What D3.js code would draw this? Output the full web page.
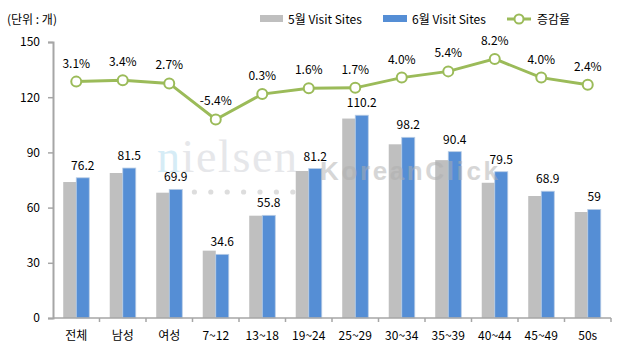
<!DOCTYPE html>
<html><head><meta charset="utf-8">
<script src="https://cdn.jsdelivr.net/npm/d3@7"></script>
<style>body{margin:0;background:#fff}svg{display:block}text{font-family:"Noto Sans CJK KR","DejaVu Sans",sans-serif;}</style>
</head><body><svg id="c" width="617" height="358"></svg>
<script>
const categories = ["전체","남성","여성","7~12","13~18","19~24","25~29","30~34","35~39","40~44","45~49","50s"];
const may = [73.9,78.8,68.1,36.6,55.6,79.9,108.4,94.4,85.8,73.5,66.3,57.6];
const june = [76.2,81.5,69.9,34.6,55.8,81.2,110.2,98.2,90.4,79.5,68.9,59];
const growth = [3.1,3.4,2.7,-5.4,0.3,1.6,1.7,4.0,5.4,8.2,4.0,2.4];
const june_labels = ["76.2","81.5","69.9","34.6","55.8","81.2","110.2","98.2","90.4","79.5","68.9","59"];
const yTicks = [0,30,60,90,120,150];
const seriesNames = ["5월 Visit Sites","6월 Visit Sites","증감율"];
const colors = {may:"#BFBFBF", june:"#558ED5", line:"#9BBB59"};

const svg = d3.select("#c");
const L=53, R=611, T=42, B=318;

// watermark background part (dots + nielsen)
const wm = svg.append("g");
wm.append("text").attr("x",157).attr("y",172).style("font-family","'Liberation Serif', serif").attr("font-size",46)
  .attr("textLength",140).attr("fill","#E6E7EA")
  .html('<tspan fill="#D6ECF6">n</tspan>ielsen');
for(let i=0;i<8;i++) wm.append("circle").attr("cx",178+i*16.4).attr("cy",192).attr("r",2.6).attr("fill","#DDDDDD");

const x = d3.scaleBand().domain(categories).range([L,R]).paddingInner(0.44).paddingOuter(0.22);
const x1 = d3.scaleBand().domain(["may","june"]).range([0,x.bandwidth()]);
const y = d3.scaleLinear().domain([0,150]).range([B,T]);
const y2 = d3.scaleLinear().domain([-50,12]).range([B,T]);

// y axis
const yAxis = svg.append("g").attr("transform",`translate(${L},0)`)
  .call(d3.axisLeft(y).tickValues(yTicks).tickSize(5).tickPadding(8));
yAxis.select(".domain").attr("stroke","#A6A6A6").attr("stroke-width",2);
yAxis.selectAll(".tick line").attr("stroke","#A6A6A6").attr("stroke-width",1.5);
yAxis.selectAll("text").attr("font-size",12).attr("fill","#000");

// bars
const g = svg.append("g");
categories.forEach((c,i)=>{
  g.append("rect").attr("x",x(c)+x1("may")).attr("width",x1.bandwidth()).attr("y",y(may[i])).attr("height",y(0)-y(may[i])).attr("fill",colors.may);
  g.append("rect").attr("x",x(c)+x1("june")).attr("width",x1.bandwidth()).attr("y",y(june[i])).attr("height",y(0)-y(june[i])).attr("fill",colors.june).attr("stroke","#B9CDE5").attr("stroke-width",0.8);
});

// watermark foreground part
svg.append("text").attr("x",320).attr("y",180).style("font-family","'Liberation Sans', Arial, sans-serif").attr("font-weight","bold")
  .attr("font-size",26).attr("textLength",178).attr("fill","#AFAFAF").attr("opacity",0.5).text("KoreanClick");

categories.forEach((c,i)=>{
  g.append("text").attr("x",x(c)+x1("june")+x1.bandwidth()/2).attr("y",y(june[i])-8).attr("text-anchor","middle").attr("font-size",12).text(june_labels[i]);
});

// x axis
const xAxis = svg.append("g").attr("transform",`translate(0,${B})`);
xAxis.append("line").attr("x1",L).attr("x2",R).attr("stroke","#A6A6A6").attr("stroke-width",1.5);
const step = x.step();
for(let i=1;i<=categories.length;i++){
  xAxis.append("line").attr("x1",L+i*step).attr("x2",L+i*step).attr("y1",0).attr("y2",4).attr("stroke","#A6A6A6").attr("stroke-width",1.5);
}
categories.forEach(c=>{
  xAxis.append("text").attr("x",x(c)+x.bandwidth()/2).attr("y",22).attr("text-anchor","middle").attr("font-size",12).text(c);
});

// line
const cx = c=>x(c)+x.bandwidth()/2;
const line = d3.line().x((d,i)=>cx(categories[i])).y(d=>y2(d));
svg.append("path").datum(growth).attr("d",line).attr("fill","none").attr("stroke",colors.line).attr("stroke-width",3);
growth.forEach((v,i)=>{
  svg.append("circle").attr("cx",cx(categories[i])).attr("cy",y2(v)).attr("r",5).attr("fill","#fff").attr("stroke",colors.line).attr("stroke-width",2);
  svg.append("text").attr("x",cx(categories[i])).attr("y",y2(v)-14).attr("text-anchor","middle").attr("font-size",12).text(v.toFixed(1)+"%");
});

// unit label
svg.append("text").attr("x",7).attr("y",24).attr("font-size",12).text("(단위 : 개)");

// legend
const lg = svg.append("g");
lg.append("rect").attr("x",260).attr("y",15).attr("width",23).attr("height",7).attr("fill",colors.may);
lg.append("text").attr("x",288).attr("y",24).attr("font-size",12).text(seriesNames[0]);
lg.append("rect").attr("x",383).attr("y",15).attr("width",24).attr("height",7).attr("fill",colors.june);
lg.append("text").attr("x",412).attr("y",24).attr("font-size",12).text(seriesNames[1]);
lg.append("line").attr("x1",507).attr("x2",531).attr("y1",19).attr("y2",19).attr("stroke",colors.line).attr("stroke-width",3);
lg.append("circle").attr("cx",519).attr("cy",19).attr("r",4.5).attr("fill","#fff").attr("stroke",colors.line).attr("stroke-width",2);
lg.append("text").attr("x",537).attr("y",24).attr("font-size",12).text(seriesNames[2]);
</script></body></html>
